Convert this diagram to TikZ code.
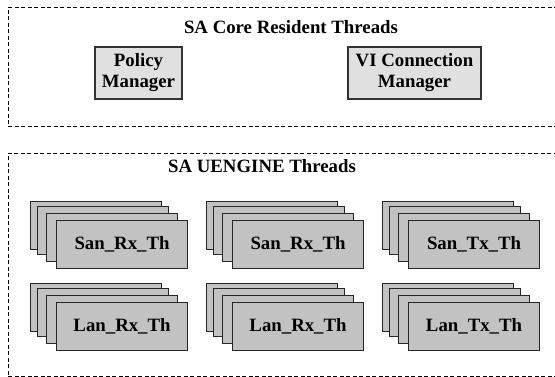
\documentclass[tikz,border=0pt]{standalone}
\usepackage{fontspec}
\setmainfont{Liberation Serif}
\begin{document}
\begin{tikzpicture}[x=1pt,y=-1pt,
  every node/.style={font=\fontsize{18.8}{21}\selectfont\bfseries},
  group/.style={draw, dash pattern=on 4pt off 2.5pt, line width=0.8pt, anchor=north west, inner sep=0pt, minimum width=560pt, minimum height=#1},
  mgr/.style={draw=black!80, fill=black!12, line width=1.1pt, minimum height=52pt, align=center, inner sep=0pt},
  thr/.style={draw=black!85, fill=black!24, line width=1.1pt, minimum width=131pt, minimum height=48pt, anchor=north west, inner sep=0pt}]
\useasboundingbox (0,0) rectangle (555,377);
\clip (0,0) rectangle (555,377);
% containers
\node[group=119pt] (core) at (8,7) {};
\node[group=222.5pt] (ueng) at (8,153) {};
\node[anchor=base] (coret) at (291,34) {SA Core Resident Threads};
\node[anchor=base] (uengt) at (262,173) {SA UENGINE Threads};
% managers
\node[mgr, minimum width=87pt] (pm) at (138.5,73) {Policy\\Manager};
\node[mgr, minimum width=133pt] (vi) at (414.5,73) {VI Connection\\Manager};
% thread stacks
\foreach \n/\X/\Y/\t in {sr1/30/201/San\_Rx\_Th, sr2/206/201/San\_Rx\_Th, st/382/201/San\_Tx\_Th,
                         lr1/30/283/Lan\_Rx\_Th, lr2/206/283/Lan\_Rx\_Th, lt/382/283/Lan\_Tx\_Th}{
  \node[thr] (\n a) at (\X,\Y) {};
  \node[thr] (\n b) at (\X+7,\Y+5) {};
  \node[thr] (\n c) at (\X+16,\Y+12) {};
  \node[thr] (\n) at (\X+26,\Y+19) {\t};
}
\end{tikzpicture}
\end{document}
